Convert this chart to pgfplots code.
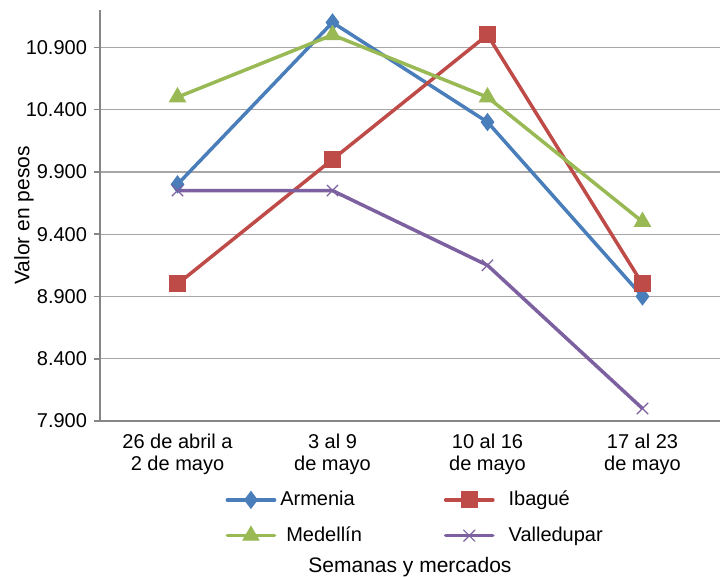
\documentclass[border=0pt]{standalone}
\usepackage{fontspec}
\setmainfont{Liberation Sans}
\usepackage{pgfplots}
\pgfplotsset{compat=1.18}
\definecolor{cArm}{HTML}{4A7EBB}
\definecolor{cIba}{HTML}{BE4B48}
\definecolor{cMed}{HTML}{98B954}
\definecolor{cVal}{HTML}{7D60A0}
\definecolor{gridc}{HTML}{A6A6A6}
\definecolor{axisc}{HTML}{868686}
\begin{document}
\begin{tikzpicture}
\useasboundingbox (-50pt,-78.5pt) rectangle (312.5pt,210.5pt);
\begin{axis}[
  at={(0,0)}, anchor=south west,
  scale only axis, width=310pt, height=205.5pt,
  xmin=0, xmax=4, ymin=7900, ymax=11200,
  axis x line=bottom, axis y line=left,
  axis line style={-, draw=axisc, line width=0.8pt},
  xtick={0.5,1.5,2.5,3.5},
  xticklabels={{26 de abril a\\2 de mayo},{3 al 9\\de mayo},{10 al 16\\de mayo},{17 al 23\\de mayo}},
  xticklabel style={align=center, font=\fontsize{10}{11}\selectfont},
  x tick style={draw=none},
  ytick={7900,8400,8900,9400,9900,10400,10900},
  yticklabels={7.900,8.400,8.900,9.400,9.900,10.400,10.900},
  yticklabel style={font=\fontsize{10}{12}\selectfont},
  y tick style={draw=axisc, line width=0.8pt},
  tick align=outside, major tick length=3pt,
  ymajorgrids, grid style={draw=gridc, line width=0.6pt},
  xlabel={Semanas y mercados},
  ylabel={Valor en pesos},
  label style={font=\fontsize{10.5}{12}\selectfont},
  xlabel style={at={(axis description cs:0.5,-0.355)}, anchor=center},
  ylabel style={at={(axis description cs:-0.1225,0.5)}, anchor=center, rotate=0},
  legend columns=2,
  legend cell align=left,
  legend style={at={(0.51,-0.15)}, anchor=north, draw=none, fill=none,
    font=\fontsize{10}{12}\selectfont, row sep=5pt,
    /tikz/every even column/.append style={column sep=39pt}},
  legend image code/.code={\draw[line cap=round, mark repeat=2, mark phase=2] plot coordinates {(0cm,0cm)(0.415cm,0cm)(0.83cm,0cm)};},
]
\addplot[cArm, line width=1.75pt, mark=diamond*, mark size=4.2pt, mark options={solid, line width=0.5pt}]
  coordinates {(0.5,9800)(1.5,11100)(2.5,10300)(3.5,8900)};
\addlegendentry{Armenia}
\addplot[cIba, line width=1.75pt, mark=square*, mark size=4pt, mark options={solid, line width=0.5pt}]
  coordinates {(0.5,9000)(1.5,10000)(2.5,11000)(3.5,9000)};
\addlegendentry{\hspace{5pt}Ibagué}
\addplot[cMed, line width=1.75pt, mark=triangle*, mark size=4.6pt, mark options={solid, line width=0.5pt}]
  coordinates {(0.5,10500)(1.5,11000)(2.5,10500)(3.5,9500)};
\addlegendentry{\hspace{3pt}Medellín}
\addplot[cVal, line width=1.75pt, mark=x, mark size=4pt, mark options={solid, line width=0.6pt}]
  coordinates {(0.5,9750)(1.5,9750)(2.5,9150)(3.5,8000)};
\addlegendentry{\hspace{5pt}Valledupar}
\end{axis}
\end{tikzpicture}
\end{document}
